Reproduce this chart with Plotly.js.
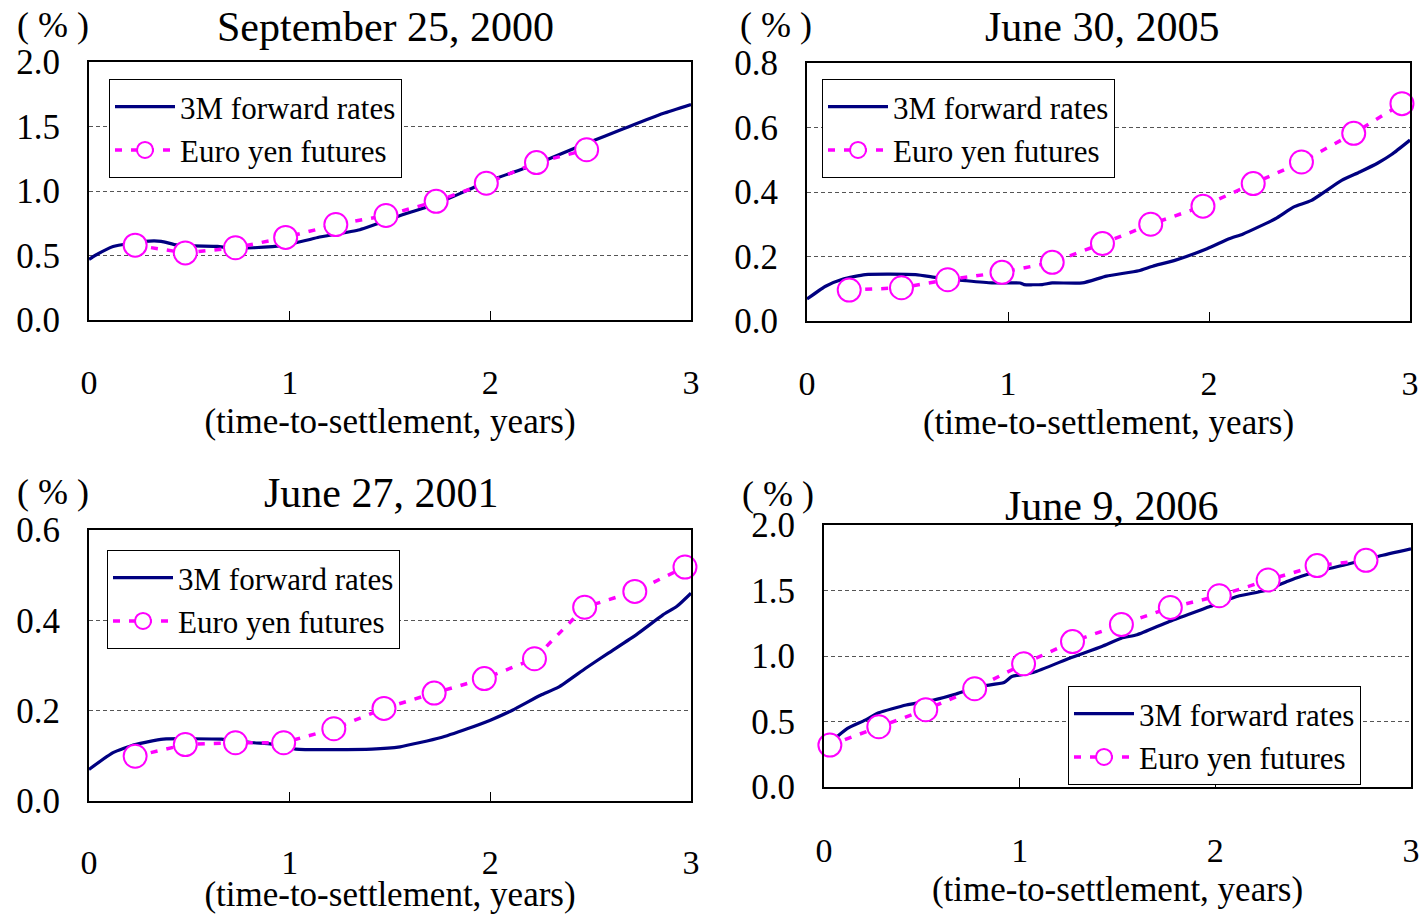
<!DOCTYPE html>
<html>
<head>
<meta charset="utf-8">
<script src="https://cdn.plot.ly/plotly-3.0.1.min.js"></script>
<style>html,body{margin:0;padding:0;background:#fff;}#chart{width:1422px;height:914px;}</style>
</head>
<body>
<div id="chart"></div>
<script>
// ---- Data (time-to-settlement in years, rates in %) ----
const panelTitles = ["September 25, 2000", "June 30, 2005", "June 27, 2001", "June 9, 2006"];
const seriesNames = ["3M forward rates", "Euro yen futures"];
const xTickVals = [0, 1, 2, 3];

// Panel 1: September 25, 2000
const fwdT1 = [0, 0.03, 0.12, 0.28, 0.36, 0.44, 0.64, 0.70, 0.82, 0.98, 1.14, 1.35, 1.57, 1.73, 1.98, 2.23, 2.48, 2.66, 2.86, 3.0];
const fwdV1 = [0.47, 0.50, 0.57, 0.61, 0.61, 0.58, 0.57, 0.56, 0.56, 0.58, 0.64, 0.70, 0.82, 0.90, 1.07, 1.21, 1.37, 1.48, 1.60, 1.67];
const futT1 = [0.23, 0.48, 0.73, 0.98, 1.23, 1.48, 1.73, 1.98, 2.23, 2.48];
const futV1 = [0.58, 0.52, 0.56, 0.64, 0.74, 0.81, 0.92, 1.06, 1.22, 1.32];

// Panel 2: June 30, 2005
const fwdT2 = [0, 0.09, 0.18, 0.29, 0.54, 0.65, 0.79, 0.92, 1.06, 1.08, 1.17, 1.22, 1.37, 1.49, 1.65, 1.72, 1.83, 1.99, 2.10, 2.17, 2.33, 2.42, 2.51, 2.66, 2.75, 2.84, 2.91, 3.0];
const fwdV2 = [0.068, 0.107, 0.13, 0.144, 0.144, 0.134, 0.125, 0.118, 0.118, 0.113, 0.113, 0.118, 0.118, 0.139, 0.156, 0.17, 0.188, 0.224, 0.255, 0.27, 0.317, 0.353, 0.374, 0.436, 0.462, 0.49, 0.517, 0.561];
const futT2 = [0.21, 0.47, 0.70, 0.97, 1.22, 1.47, 1.71, 1.97, 2.22, 2.46, 2.72, 2.96];
const futV2 = [0.096, 0.103, 0.128, 0.151, 0.182, 0.24, 0.30, 0.356, 0.426, 0.493, 0.582, 0.674];

// Panel 3: June 27, 2001
const fwdT3 = [0, 0.12, 0.23, 0.37, 0.66, 0.70, 0.82, 0.91, 1.03, 1.41, 1.55, 1.75, 1.885, 2.0, 2.11, 2.25, 2.34, 2.475, 2.59, 2.73, 2.86, 2.93, 3.0];
const fwdV3 = [0.07, 0.107, 0.125, 0.137, 0.137, 0.135, 0.129, 0.126, 0.115, 0.115, 0.12, 0.14, 0.16, 0.179, 0.201, 0.234, 0.252, 0.294, 0.328, 0.369, 0.412, 0.431, 0.46];
const futT3 = [0.23, 0.48, 0.73, 0.97, 1.22, 1.47, 1.72, 1.97, 2.22, 2.47, 2.72, 2.97];
const futV3 = [0.099, 0.125, 0.129, 0.129, 0.16, 0.205, 0.239, 0.271, 0.315, 0.429, 0.464, 0.518];

// Panel 4: June 9, 2006
const fwdT4 = [0.04, 0.12, 0.21, 0.28, 0.42, 0.56, 0.675, 0.79, 0.92, 0.96, 1.07, 1.255, 1.42, 1.52, 1.6, 1.765, 1.975, 2.115, 2.255, 2.37, 2.44, 2.56, 2.67, 2.835, 3.0];
const fwdV4 = [0.35, 0.447, 0.51, 0.567, 0.626, 0.664, 0.71, 0.766, 0.797, 0.843, 0.874, 0.983, 1.073, 1.136, 1.162, 1.264, 1.379, 1.456, 1.5, 1.571, 1.609, 1.66, 1.699, 1.762, 1.818];
const futT4 = [0.03, 0.28, 0.52, 0.77, 1.02, 1.27, 1.52, 1.77, 2.02, 2.27, 2.52, 2.77];
const futV4 = [0.32, 0.46, 0.59, 0.75, 0.94, 1.11, 1.24, 1.37, 1.46, 1.58, 1.69, 1.73];

const yRanges = [[0, 2.0], [0, 0.8], [0, 0.6], [0, 2.0]];
const yDticks = [0.5, 0.2, 0.2, 0.5];

// ---- Styling ----
const FONT = '"Liberation Serif", "Times New Roman", serif';
const NAVY = '#000080';
const PINK = '#FF00FF';
const W = 1422, H = 914;

// plot-area pixel boxes [left, right, top, bottom]
const boxes = [[89, 691, 62, 320], [807, 1410, 63, 321], [89, 691, 530, 801], [824, 1411, 525, 787]];
const legendPos = [[109, 79], [822, 79], [107, 550], [1068, 686]];
const tickStandoff = [31, 31, 30, 32];
const titleStandoff = [9, 9, 0, 9];

const fwdT = [fwdT1, fwdT2, fwdT3, fwdT4];
const fwdV = [fwdV1, fwdV2, fwdV3, fwdV4];
const futT = [futT1, futT2, futT3, futT4];
const futV = [futV1, futV2, futV3, futV4];

const traces = [];
const layout = {
  width: W, height: H,
  margin: {l: 0, r: 0, t: 0, b: 0},
  paper_bgcolor: '#fff', plot_bgcolor: '#fff',
  font: {family: FONT, color: '#000', size: 30},
  showlegend: true,
  annotations: []
};

const pctPos = [[53, 25], [776, 25], [53, 492], [778, 494]];
const titlePos = [[385, 27], [1102, 27], [382, 493], [1112, 506]];

for (let i = 0; i < 4; i++) {
  const n = i === 0 ? '' : String(i + 1);
  const lg = 'legend' + n;
  traces.push({
    x: fwdT[i], y: fwdV[i], xaxis: 'x' + n, yaxis: 'y' + n,
    type: 'scatter', mode: 'lines', name: seriesNames[0], legend: lg,
    line: {color: NAVY, width: 3.2, shape: 'spline', smoothing: 0.5},
    cliponaxis: false
  });
  traces.push({
    x: futT[i], y: futV[i], xaxis: 'x' + n, yaxis: 'y' + n,
    type: 'scatter', mode: 'lines+markers', name: seriesNames[1], legend: lg,
    line: {color: PINK, width: 3.5, dash: '7px,9px'},
    marker: {symbol: 'circle', size: 23, color: '#fff', line: {color: PINK, width: 2}},
    cliponaxis: false
  });
  const b = boxes[i];
  layout['xaxis' + n] = {
    domain: [b[0] / W, b[1] / W], anchor: 'y' + n, range: [0, 3],
    tickmode: 'array', tickvals: xTickVals,
    ticks: 'inside', ticklen: 9, tickwidth: 1, tickcolor: '#000',
    showline: true, mirror: true, linewidth: 2, linecolor: '#000',
    showgrid: false, zeroline: false,
    tickfont: {family: FONT, size: 34, color: '#000'},
    ticklabelstandoff: tickStandoff[i],
    title: {text: '(time-to-settlement, years)', font: {family: FONT, size: 35, color: '#000'}, standoff: titleStandoff[i]},
    fixedrange: true
  };
  layout['yaxis' + n] = {
    domain: [1 - b[3] / H, 1 - b[2] / H], anchor: 'x' + n,
    range: yRanges[i], dtick: yDticks[i], tick0: 0, tickformat: '.1f',
    ticks: '', showline: true, mirror: true, linewidth: 2, linecolor: '#000',
    showgrid: true, gridcolor: '#555', gridwidth: 1, griddash: '4px,3px',
    zeroline: false,
    tickfont: {family: FONT, size: 35, color: '#000'},
    ticklabelstandoff: 20,
    fixedrange: true
  };
  layout[lg] = {
    x: legendPos[i][0] / W, y: 1 - legendPos[i][1] / H,
    xanchor: 'left', yanchor: 'top',
    bgcolor: '#fff', bordercolor: '#000', borderwidth: 1,
    font: {family: FONT, size: 31, color: '#000'},
    itemwidth: 60, tracegroupgap: 0
  };
  layout.annotations.push({
    text: '( % )', xref: 'paper', yref: 'paper',
    x: pctPos[i][0] / W, y: 1 - pctPos[i][1] / H, xanchor: 'center', yanchor: 'middle',
    showarrow: false, font: {family: FONT, size: 36, color: '#000'}
  });
  layout.annotations.push({
    text: panelTitles[i], xref: 'paper', yref: 'paper',
    x: titlePos[i][0] / W, y: 1 - titlePos[i][1] / H, xanchor: 'center', yanchor: 'middle',
    showarrow: false, font: {family: FONT, size: 42, color: '#000'}
  });
}

Plotly.newPlot('chart', traces, layout, {displayModeBar: false, staticPlot: true});
</script>
</body>
</html>
